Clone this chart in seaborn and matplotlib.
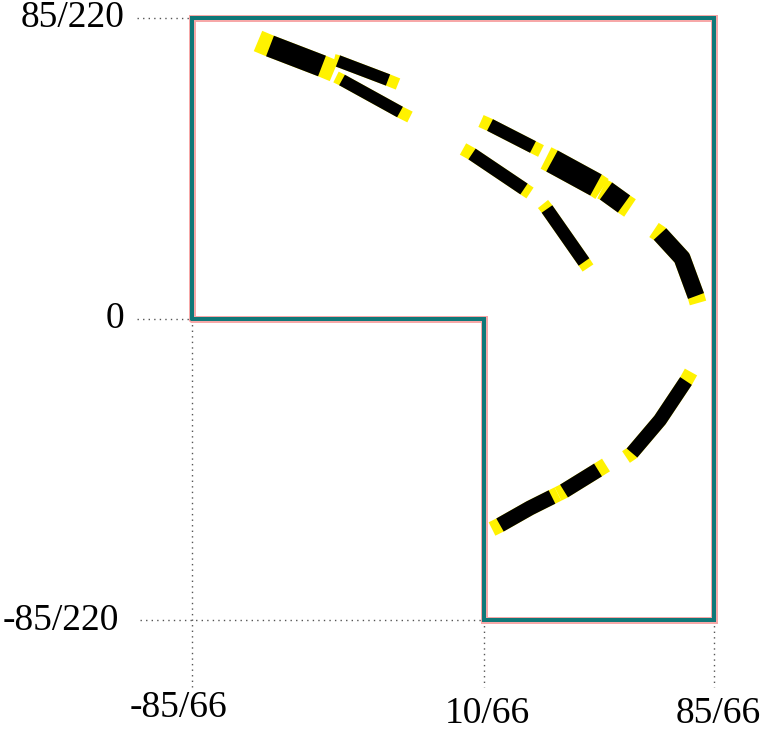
import numpy as np
import pandas as pd
import seaborn as sns
import matplotlib.pyplot as plt

# L-shaped domain corners
x_lo, x_mid, x_hi = -85 / 66, 10 / 66, 85 / 66
y_lo, y_hi = -85 / 220, 85 / 220

outline_x = [x_lo, x_lo, x_hi, x_hi, x_mid, x_mid, x_lo]
outline_y = [0, y_hi, y_hi, y_lo, y_lo, 0, 0]

# bands: (x points, y points, width in px); yellow ends = first/last point
bands = {
    "A": ([-0.96221, -0.90300, -0.64641, -0.58720],
          [0.35641, 0.35000, 0.32436, 0.31795], 22),
    "A_up": ([-0.58720, -0.56746, -0.32074, -0.27139],
             [0.33205, 0.33077, 0.30641, 0.30128], 12),
    "A_lo": ([-0.57733, -0.54772, -0.26152, -0.21218],
             [0.31026, 0.30641, 0.26538, 0.25897], 12),
    "B1": ([0.13816, 0.18257, 0.39475, 0.43423],
           [0.25385, 0.24872, 0.22051, 0.21538], 13),
    "B2": ([0.04934, 0.09375, 0.35034, 0.37995],
           [0.21795, 0.21154, 0.16667, 0.16154], 13),
    "B3a": ([0.45890, 0.48850, 0.70562, 0.73522],
            [0.20641, 0.20256, 0.17179, 0.16667], 24),
    "B3b": ([0.73522, 0.75496, 0.84378, 0.87339],
            [0.16667, 0.16410, 0.14744, 0.14231], 21),
    "B4": ([0.44409, 0.46383, 0.64640, 0.66614],
           [0.14744, 0.14103, 0.07308, 0.06538], 13),
    "B5": ([0.99181, 1.02142, 1.12998, 1.19906, 1.20893],
           [0.11410, 0.10897, 0.07821, 0.02949, 0.02051], 17),
    "C1a": ([0.19244, 0.23192, 0.37995, 0.48850, 0.51811],
            [-0.26923, -0.26410, -0.24231, -0.22821, -0.22436], 15),
    "C1b": ([0.51811, 0.54772, 0.71549, 0.75496],
            [-0.22436, -0.22051, -0.19359, -0.18718], 15),
    "C2": ([0.85365, 0.88326, 1.02142, 1.14971, 1.17438],
           [-0.17692, -0.17179, -0.12949, -0.07949, -0.06795], 14),
}

x_ticks = [x_lo, x_mid, x_hi]
x_labels = ["-85/66", "10/66", "85/66"]
y_ticks = [y_hi, 0, y_lo]
y_labels = ["85/220", "0", "-85/220"]

sns.set_style("white")
plt.rcParams["font.family"] = ["Liberation Serif", "DejaVu Serif"]

fig = plt.figure(figsize=(7.61, 7.32), dpi=100)
ax = fig.add_axes([0, 0, 1, 1])
ax.set_xlim(-2.2353, 1.5198)
ax.set_ylim(-0.52949, 0.40897)
ax.axis("off")

px = 0.72  # points per pixel

# dotted guide lines
guide = dict(color="#555555", lw=1.0, ls=(0, (1, 3)))
ax.plot([-1.5593, x_lo], [y_hi, y_hi], **guide)
ax.plot([-1.5593, x_lo], [0, 0], **guide)
ax.plot([-1.5445, x_mid], [y_lo, y_lo], **guide)
for xv, ytop in [(x_lo, 0), (x_mid, y_lo), (x_hi, y_lo)]:
    ax.plot([xv, xv], [ytop, -0.4718], **guide)

# L outline
df_out = pd.DataFrame({"x": outline_x, "y": outline_y})
sns.lineplot(data=df_out, x="x", y="y", sort=False, estimator=None, ax=ax,
             color="#f7a8a8", linewidth=7 * px, solid_joinstyle="miter")
sns.lineplot(data=df_out, x="x", y="y", sort=False, estimator=None, ax=ax,
             color="#0f7878", linewidth=4 * px, solid_joinstyle="miter")

# bands
for name, (bx, by, w) in bands.items():
    d = pd.DataFrame({"x": bx, "y": by})
    sns.lineplot(data=d, x="x", y="y", sort=False, estimator=None, ax=ax,
                 color="#fff200", linewidth=w * px, solid_capstyle="butt",
                 solid_joinstyle="round")
    sns.lineplot(data=d.iloc[1:-1], x="x", y="y", sort=False, estimator=None,
                 ax=ax, color="black", linewidth=w * px, solid_capstyle="butt",
                 solid_joinstyle="round")

# tick labels
fs = 27
for yv, lab in zip(y_ticks, y_labels):
    ax.text(-1.6233 if lab != "-85/220" else -1.6480, yv, lab, fontsize=fs,
            ha="right", va="center", color="black")
x_lab_y = [-0.49872, -0.50641, -0.50641]
for xv, lab, yy in zip(x_ticks, x_labels, x_lab_y):
    xx = xv - 0.069 if lab == "-85/66" else xv + 0.02
    ax.text(xx, yy, lab, fontsize=fs, ha="center", va="center", color="black")

fig.savefig("out.png", dpi=100)
